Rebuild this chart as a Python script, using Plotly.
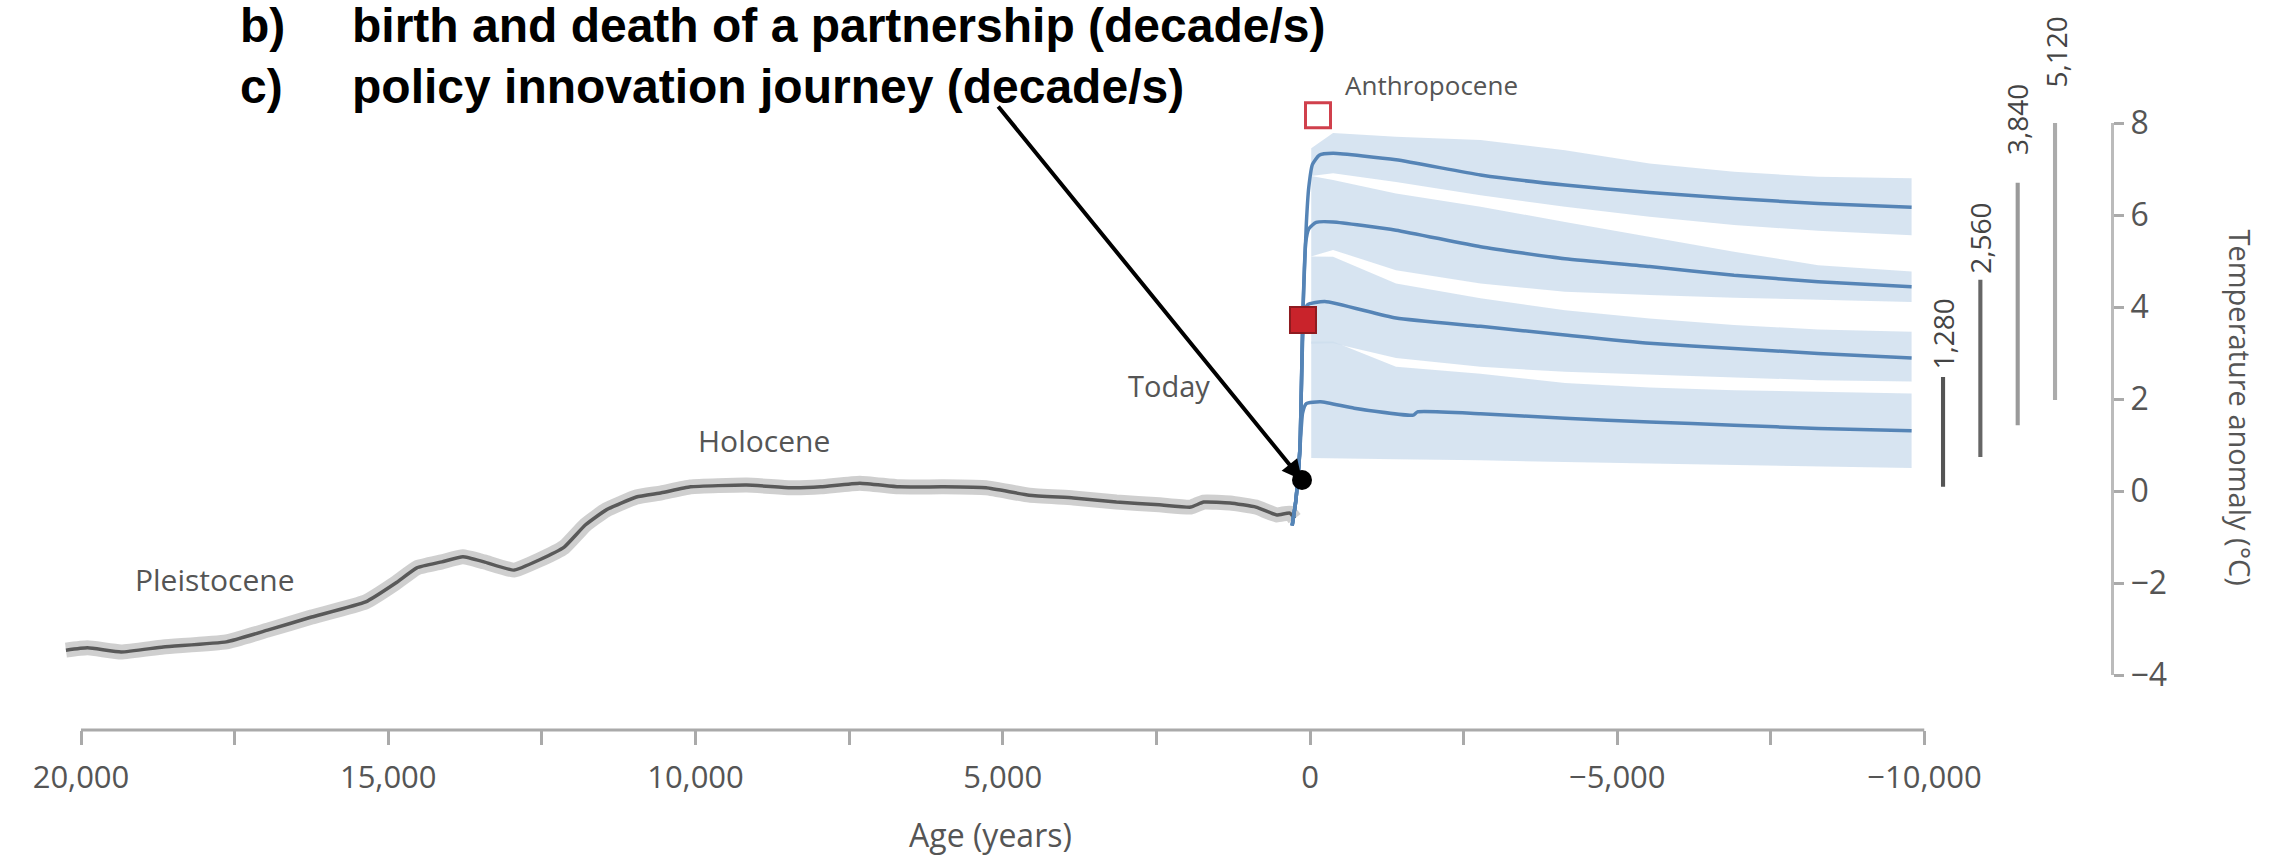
import plotly.graph_objects as go

# ---------------- data ----------------
# Past temperature record (age in years, anomaly in °C)
past_age = [20245, 19894, 19347, 18662, 17635, 16950, 16248, 15367, 14878, 14535,
            14127, 13785, 13442, 12953, 12545, 12137, 11794, 11452, 10962, 10555,
            10082, 9168, 8450, 7960, 7325, 6690, 5970, 5270, 4570, 3850,
            3150, 2450, 1940, 1730, 1300, 880, 540, 330, 250]
past_temp = [-3.46, -3.41, -3.50, -3.39, -3.28, -3.02, -2.74, -2.41, -2.00, -1.67,
             -1.54, -1.43, -1.54, -1.72, -1.50, -1.22, -0.74, -0.41, -0.13, -0.04,
             0.09, 0.13, 0.07, 0.09, 0.17, 0.09, 0.09, 0.07, -0.09, -0.15,
             -0.24, -0.30, -0.35, -0.24, -0.26, -0.35, -0.52, -0.48, -0.60]

# Future projections: four scenarios (central lines)
s1_age = [290, 230, 165, 115, 60, 20, -40, -150, -375, -1400, -2775, -4150, -5525, -6900, -8270, -9790]
s1_temp = [-0.75, -0.2, 0.9, 3.9, 5.8, 6.6, 7.1, 7.3, 7.34, 7.2, 6.87, 6.65, 6.49, 6.36, 6.25, 6.17]
s2_age = [290, 230, 165, 115, 70, 20, -100, -375, -1400, -2775, -4150, -5525, -6900, -8270, -9790]
s2_temp = [-0.75, -0.2, 0.9, 3.9, 5.4, 5.7, 5.84, 5.85, 5.67, 5.31, 5.05, 4.88, 4.69, 4.55, 4.44]
s3_age = [290, 230, 165, 100, 40, -240, -1400, -2775, -4150, -5525, -6900, -8270, -9790]
s3_temp = [-0.75, -0.2, 0.9, 3.8, 4.05, 4.12, 3.76, 3.58, 3.39, 3.21, 3.1, 2.99, 2.89]
s4_age = [290, 230, 165, 120, 60, -171, -720, -1680, -1750, -2775, -4150, -5525, -6900, -8270, -9790]
s4_temp = [-0.75, -0.2, 0.9, 1.7, 1.9, 1.94, 1.8, 1.65, 1.72, 1.68, 1.58, 1.5, 1.43, 1.36, 1.31]

# Uncertainty bands
band_age = [-20, -375, -1400, -2775, -4150, -5525, -6900, -8270, -9790]
b1_hi = [7.45, 7.78, 7.70, 7.63, 7.41, 7.12, 6.94, 6.83, 6.80]
b1_lo = [6.85, 6.91, 6.72, 6.43, 6.18, 5.96, 5.78, 5.66, 5.56]
b2_hi = [6.85, 6.76, 6.47, 6.18, 5.85, 5.53, 5.20, 4.91, 4.77]
b2_lo = [5.10, 5.24, 4.80, 4.51, 4.33, 4.26, 4.20, 4.15, 4.11]
b3_hi = [5.10, 5.09, 4.51, 4.19, 3.93, 3.75, 3.61, 3.51, 3.46]
b3_lo = [3.20, 3.21, 2.89, 2.70, 2.59, 2.52, 2.47, 2.41, 2.38]
b4_hi = [3.25, 3.25, 2.70, 2.55, 2.35, 2.25, 2.19, 2.15, 2.12]
b4_lo = [0.72, 0.71, 0.69, 0.67, 0.63, 0.60, 0.57, 0.53, 0.50]

# Ranges per cumulative emission scenario (GtC)
emission_labels = ["1,280", "2,560", "3,840", "5,120"]
emission_low = [0.09, 0.74, 1.43, 1.98]
emission_high = [2.48, 4.59, 6.70, 8.00]

# Point markers
today_age = [130]
today_temp = [0.24]
red_filled_age = [114]
red_filled_temp = [3.72]
red_open_age = [-130]
red_open_temp = [8.17]

x_ticks = [20000, 15000, 10000, 5000, 0, -5000, -10000]
x_minor = [17500, 12500, 7500, 2500, -2500, -7500]
y_ticks = [-4, -2, 0, 2, 4, 6, 8]

# ---------------- figure ----------------
W, H = 2289, 859
FONT = "Open Sans"
TXT = "#555555"
AXC = "#aaaaaa"
BAND = "rgba(205,221,237,0.8)"
LINE = "#5584b6"

# pixel geometry of the axes
X_LEFT_TICK, X_RIGHT_TICK = 81.0, 1924.5      # pixel columns of 20,000 and -10,000
PX_PER_YEAR = (X_RIGHT_TICK - X_LEFT_TICK) / 30000.0
X_EXTRA = 400                                  # the record starts slightly before 20,000
X_DOM0 = X_LEFT_TICK - X_EXTRA * PX_PER_YEAR
X_AXIS_ROW = 730
Y_TOP, Y_BOT = 123, 675          # pixel rows of T=8 and T=-4
PX_PER_DEG = (Y_BOT - Y_TOP) / 12.0
Y2_TOP = 40                       # taller hidden axis for items above the scale

fig = go.Figure()

bands = [(b1_hi, b1_lo), (b2_hi, b2_lo), (b3_hi, b3_lo), (b4_hi, b4_lo)]
for hi, lo in bands:
    fig.add_trace(go.Scatter(
        x=band_age + band_age[::-1], y=hi + lo[::-1],
        fill="toself", fillcolor=BAND, line=dict(width=0),
        mode="lines", hoverinfo="skip", showlegend=False))

# past record: halo + line
fig.add_trace(go.Scatter(x=past_age, y=past_temp, mode="lines",
                         line=dict(color="rgba(160,160,160,0.5)", width=15, shape="spline", smoothing=0.4),
                         showlegend=False, hoverinfo="skip"))
fig.add_trace(go.Scatter(x=past_age, y=past_temp, mode="lines",
                         line=dict(color="#595959", width=3.5, shape="spline", smoothing=0.4),
                         showlegend=False))

for ax_, ty_ in [(s1_age, s1_temp), (s2_age, s2_temp), (s3_age, s3_temp), (s4_age, s4_temp)]:
    fig.add_trace(go.Scatter(x=ax_, y=ty_, mode="lines",
                             line=dict(color=LINE, width=3.5, shape="spline", smoothing=0.5),
                             showlegend=False))

# markers
fig.add_trace(go.Scatter(x=red_filled_age, y=red_filled_temp, mode="markers",
                         marker=dict(symbol="square", size=26, color="#c9232b",
                                     line=dict(color="#8e1b20", width=2)),
                         showlegend=False))
fig.add_trace(go.Scatter(x=red_open_age, y=red_open_temp, mode="markers",
                         xaxis="x", yaxis="y2",
                         marker=dict(symbol="square", size=25, color="white",
                                     line=dict(color="#d0404c", width=3)),
                         showlegend=False))
fig.add_trace(go.Scatter(x=today_age, y=today_temp, mode="markers",
                         marker=dict(symbol="circle", size=20, color="black"),
                         showlegend=False))

# emission range bars
fig.add_trace(go.Bar(x=emission_labels,
                     y=[h - l for h, l in zip(emission_high, emission_low)],
                     base=emission_low, width=0.11,
                     marker=dict(color=["#555555", "#666666", "#9a9a9a", "#ababab"], line=dict(width=0)),
                     xaxis="x2", yaxis="y", showlegend=False))

label_gap = [5, 4, 26, 33]
annotations = []
for lab, hi, gap in zip(emission_labels, emission_high, label_gap):
    annotations.append(dict(x=lab, y=hi, xref="x2", yref="y2", text=lab, showarrow=False,
                            textangle=-90, xanchor="center", yanchor="bottom", yshift=gap,
                            font=dict(family=FONT, size=28, color="#444444")))

annotations += [
    dict(x=17814, y=-1.93, xref="x", yref="y", text="Pleistocene", showarrow=False,
         font=dict(family=FONT, size=30, color=TXT)),
    dict(x=8890, y=1.1, xref="x", yref="y", text="Holocene", showarrow=False,
         font=dict(family=FONT, size=30, color=TXT)),
    dict(x=2300, y=2.3, xref="x", yref="y", text="Today", showarrow=False,
         font=dict(family=FONT, size=29, color=TXT)),
    dict(x=-540, y=8.83, xref="x", yref="y2", text="Anthropocene", showarrow=False,
         xanchor="left", font=dict(family=FONT, size=26, color=TXT)),
    # arrow
    dict(x=today_age[0], y=today_temp[0], xref="x", yref="y", text="", showarrow=True,
         ax=-305, ay=-375, arrowhead=2, arrowsize=1.0, arrowwidth=4, arrowcolor="black",
         standoff=0),
    # y axis title
    dict(x=2262 / W, y=1 - 407 / H, xref="paper", yref="paper", text="Temperature anomaly (°C)",
         textangle=90, showarrow=False, font=dict(family=FONT, size=29, color=TXT)),
    # top texts
    dict(x=238 / W, y=1 - 26 / H, xref="paper", yref="paper", text="<b>b)</b>", showarrow=False,
         xanchor="left", yanchor="middle", font=dict(family="Liberation Sans", size=48, color="black")),
    dict(x=350 / W, y=1 - 26 / H, xref="paper", yref="paper",
         text="<b>birth and death of a partnership (decade/s)</b>", showarrow=False,
         xanchor="left", yanchor="middle", font=dict(family="Liberation Sans", size=48, color="black")),
    dict(x=238 / W, y=1 - 86 / H, xref="paper", yref="paper", text="<b>c)</b>", showarrow=False,
         xanchor="left", yanchor="middle", font=dict(family="Liberation Sans", size=48, color="black")),
    dict(x=350 / W, y=1 - 86 / H, xref="paper", yref="paper",
         text="<b>policy innovation journey (decade/s)</b>", showarrow=False,
         xanchor="left", yanchor="middle", font=dict(family="Liberation Sans", size=48, color="black")),
]

fig.update_layout(
    width=W, height=H, autosize=False,
    margin=dict(l=0, r=0, t=0, b=0, pad=0),
    paper_bgcolor="white", plot_bgcolor="rgba(0,0,0,0)",
    showlegend=False,
    font=dict(family=FONT, color=TXT),
    separators=".,",
    xaxis=dict(
        domain=[X_DOM0 / W, X_RIGHT_TICK / W], range=[20000 + X_EXTRA, -10000],
        anchor="free", position=1 - X_AXIS_ROW / H, automargin=False,
        tickmode="array", tickvals=x_ticks, tickformat=",d",
        ticks="outside", ticklen=14, tickwidth=2.5, tickcolor=AXC,
        minor=dict(tickmode="array", tickvals=x_minor, ticks="outside", ticklen=14,
                   tickwidth=2.5, tickcolor=AXC),
        showline=False,
        showgrid=False, zeroline=False,
        tickfont=dict(family=FONT, size=31, color=TXT),
        ticklabelstandoff=6,
        title=dict(text="Age (years)", font=dict(family=FONT, size=32, color=TXT), standoff=28),
    ),
    xaxis2=dict(
        domain=[1905.7 / W, 2073.7 / W], range=[-1, 3.5], type="category",
        anchor="free", position=0, visible=False, automargin=False,
    ),
    yaxis=dict(
        domain=[1 - Y_BOT / H, 1 - Y_TOP / H], range=[-4, 8],
        anchor="free", position=2112 / W, side="right", automargin=False,
        tickmode="array", tickvals=y_ticks,
        ticks="outside", ticklen=10, tickwidth=2.5, tickcolor=AXC,
        showline=True, linecolor="#bbbbbb", linewidth=3,
        showgrid=False, zeroline=False,
        tickfont=dict(family=FONT, size=32, color=TXT),
    ),
    yaxis2=dict(
        domain=[1 - Y_BOT / H, 1 - Y2_TOP / H],
        range=[-4, 8 + (Y_TOP - Y2_TOP) / PX_PER_DEG],
        anchor="free", position=0, visible=False, automargin=False,
        showgrid=False, zeroline=False,
    ),
    shapes=[dict(type="line", xref="x", yref="paper",
                 x0=x_ticks[0], x1=x_ticks[-1],
                 y0=1 - X_AXIS_ROW / H, y1=1 - X_AXIS_ROW / H,
                 line=dict(color=AXC, width=3))],
    annotations=annotations,
)

fig.write_html("out.html", config={"displayModeBar": False},
               post_script="document.body.style.margin='0';document.body.style.overflow='hidden';")
